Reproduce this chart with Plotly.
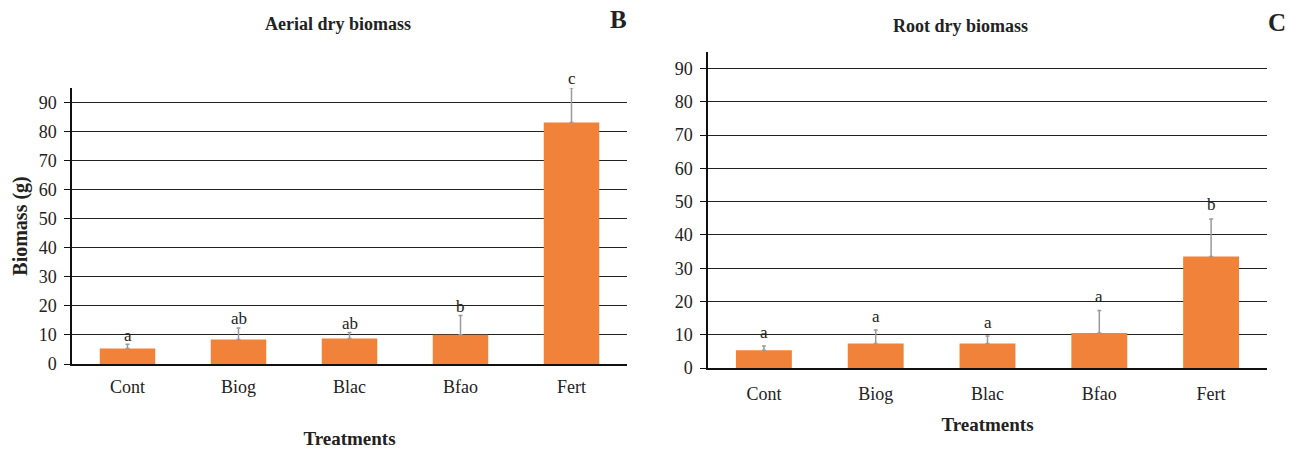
import plotly.graph_objects as go

categories = ["Cont", "Biog", "Blac", "Bfao", "Fert"]

aerial_values = [5.3, 8.4, 8.8, 10.1, 83.1]
aerial_errors = [1.5, 4.0, 2.0, 6.6, 12.0]
aerial_letters = ["a", "ab", "ab", "b", "c"]

root_values = [5.3, 7.4, 7.4, 10.5, 33.5]
root_errors = [1.3, 4.0, 2.2, 6.8, 11.3]
root_letters = ["a", "a", "a", "a", "b"]

y_ticks = [0, 10, 20, 30, 40, 50, 60, 70, 80, 90]
Y_MAX = 95

BAR = "#F08239"
ERR = "#9A9A9A"
FONT = "Liberation Serif"
TXT = "#222"

W, H = 1290, 449
# plot-area pixel boxes (left, right, bottom, top)
LEFT_BOX = (72, 627, 364, 88)
RIGHT_BOX = (708, 1267, 368, 52)

fig = go.Figure()

def add_panel(values, errors, xa, ya):
    fig.add_trace(go.Bar(
        x=categories, y=values, width=0.5,
        marker=dict(color=BAR, line=dict(width=0)),
        error_y=dict(type="data", symmetric=False, array=errors,
                     arrayminus=[0] * len(errors),
                     color=ERR, thickness=1.5, width=2),
        xaxis=xa, yaxis=ya, showlegend=False,
    ))

add_panel(aerial_values, aerial_errors, "x", "y")
add_panel(root_values, root_errors, "x2", "y2")

def letters(values, errors, labels, xref, yref, box, shift):
    px_per_unit = (box[2] - box[3]) / Y_MAX
    for c, v, e, t in zip(categories, values, errors, labels):
        fig.add_annotation(x=c, y=v, xref=xref, yref=yref, text=t,
                           showarrow=False, yanchor="middle",
                           yshift=e * px_per_unit + shift,
                           font=dict(family=FONT, size=17, color=TXT))

letters(aerial_values, aerial_errors, aerial_letters, "x", "y", LEFT_BOX, 9)
letters(root_values, root_errors, root_letters, "x2", "y2", RIGHT_BOX, 14)

xcommon = dict(type="category", range=[-0.5, 4.5], showgrid=False,
               showline=True, linecolor="#111", linewidth=2, ticks="",
               tickfont=dict(family=FONT, size=18, color=TXT),
               automargin=False, fixedrange=True)
ycommon = dict(range=[0, Y_MAX], tickvals=y_ticks, showgrid=True,
               gridcolor="#222", gridwidth=1, showline=True,
               linecolor="#111", linewidth=1.5, ticks="outside",
               ticklen=6, tickcolor="#111", tickwidth=1,
               ticklabelstandoff=4,
               tickfont=dict(family=FONT, size=18, color=TXT),
               zeroline=False, automargin=False, fixedrange=True)

fig.update_layout(
    width=W, height=H, autosize=False,
    margin=dict(l=0, r=0, t=0, b=0),
    paper_bgcolor="white", plot_bgcolor="white",
    xaxis=dict(domain=[LEFT_BOX[0] / W, LEFT_BOX[1] / W], anchor="y",
               ticklabelstandoff=5,
               title=dict(text="<b>Treatments</b>", standoff=45,
                          font=dict(family=FONT, size=19, color=TXT)),
               **xcommon),
    yaxis=dict(domain=[1 - LEFT_BOX[2] / H, 1 - LEFT_BOX[3] / H], anchor="x",
               title=dict(text="<b>Biomass (g)</b>", standoff=6,
                          font=dict(family=FONT, size=20, color=TXT)),
               **ycommon),
    xaxis2=dict(domain=[RIGHT_BOX[0] / W, RIGHT_BOX[1] / W], anchor="y2",
                ticklabelstandoff=8,
                title=dict(text="<b>Treatments</b>", standoff=15,
                           font=dict(family=FONT, size=19, color=TXT)),
                **xcommon),
    yaxis2=dict(domain=[1 - RIGHT_BOX[2] / H, 1 - RIGHT_BOX[3] / H],
                anchor="x2", **ycommon),
)

def label(x, y, text, size):
    fig.add_annotation(x=x / W, y=1 - y / H, xref="paper", yref="paper",
                       text=text, showarrow=False, xanchor="center",
                       yanchor="middle",
                       font=dict(family=FONT, size=size, color=TXT))

label(338, 24, "<b>Aerial dry biomass</b>", 18)
label(618, 20, "<b>B</b>", 25)
label(960, 26, "<b>Root dry biomass</b>", 18)
label(1277, 22, "<b>C</b>", 25)

fig.write_html("out.html", config={"displayModeBar": False},
               post_script="document.body.style.margin='0';")
